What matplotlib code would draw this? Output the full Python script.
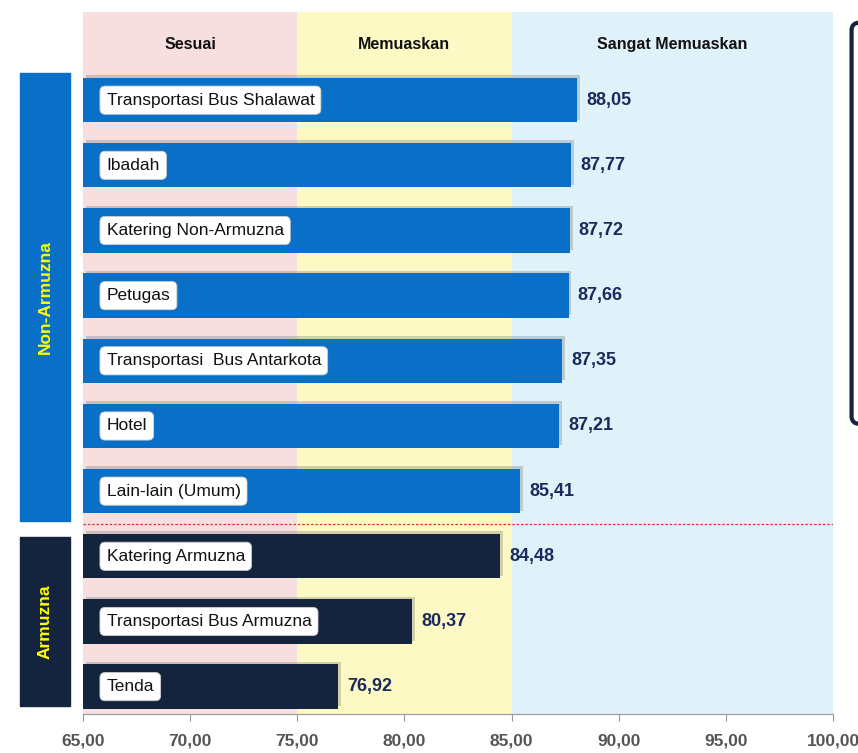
import matplotlib
matplotlib.use("Agg")
import matplotlib.pyplot as plt
import matplotlib.transforms as mtransforms
import matplotlib.patheffects as pe
from matplotlib.patches import Rectangle, FancyBboxPatch

plt.rcParams['font.family'] = ['Liberation Sans', 'DejaVu Sans']

# survey scores per service
services = ['Transportasi Bus Shalawat', 'Ibadah', 'Katering Non-Armuzna', 'Petugas',
            'Transportasi  Bus Antarkota', 'Hotel', 'Lain-lain (Umum)',
            'Katering Armuzna', 'Transportasi Bus Armuzna', 'Tenda']
scores = [88.05, 87.77, 87.72, 87.66, 87.35, 87.21, 85.41, 84.48, 80.37, 76.92]
groups = ['Non-Armuzna'] * 7 + ['Armuzna'] * 3

# rating bands
band_names = ['Sesuai', 'Memuaskan', 'Sangat Memuaskan']
band_edges = [65, 75, 85, 100]
band_colors = ['#f7dfe0', '#fdf9c4', '#dff1f9']

xticks = [65, 70, 75, 80, 85, 90, 95, 100]

group_colors = {'Non-Armuzna': '#0a6fc6', 'Armuzna': '#14243f'}

fig = plt.figure(figsize=(8.58, 7.53), dpi=100)
ax = fig.add_axes([0.0967, 0.0518, 0.8741, 0.932])

n = len(services)
ypos = list(range(n))

for (lo, hi), c in zip(zip(band_edges[:-1], band_edges[1:]), band_colors):
    ax.axvspan(lo, hi, color=c, zorder=0, lw=0)

bars = ax.barh(ypos, [s - band_edges[0] for s in scores], left=band_edges[0], height=0.68,
               color=[group_colors[g] for g in groups], zorder=2)
for b in bars:
    b.set_path_effects([pe.SimplePatchShadow(offset=(2, 2), alpha=0.25, shadow_rgbFace='#555555'),
                        pe.Normal()])

for y, name, s in zip(ypos, services, scores):
    ax.text(66.1, y, name, va='center', ha='left', fontsize=12.5, color='#111111', zorder=4,
            bbox=dict(boxstyle='round,pad=0.38,rounding_size=0.3', fc='white', ec='#cccccc', lw=0.6))
    ax.text(s + 0.42, y, f'{s:.2f}'.replace('.', ','), va='center', ha='left', fontsize=13,
            fontweight='bold', color='#1b2a5c', zorder=4)

# header row
for (lo, hi), name in zip(zip(band_edges[:-1], band_edges[1:]), band_names):
    ax.text((lo + hi) / 2, -0.86, name, ha='center', va='center', fontsize=11.5,
            fontweight='bold', color='#111111')

# separator between groups
split = groups.index('Armuzna') - 0.5
ax.plot([65, 100], [split, split], color='#e03030', lw=0.9, ls=(0, (2, 1.5)), zorder=3)

ax.set_xlim(65, 100)
ax.set_ylim(n - 0.58, -1.35)
ax.set_xticks(xticks)
ax.set_xticklabels([f'{t:.2f}'.replace('.', ',') for t in xticks], fontsize=12.5,
                   fontweight='bold', color='#555555')
ax.tick_params(axis='x', length=5, color='#999999', pad=9)
ax.set_yticks([])
for side in ['top', 'right', 'left']:
    ax.spines[side].set_visible(False)
ax.spines['bottom'].set_color('#999999')

# group labels on the left
trans = mtransforms.blended_transform_factory(fig.transFigure, ax.transData)
for g in ['Non-Armuzna', 'Armuzna']:
    idx = [i for i, gg in enumerate(groups) if gg == g]
    top = idx[0] - 0.42 if idx[0] == 0 else idx[0] - 0.30
    bot = idx[-1] + (0.46 if g == 'Non-Armuzna' else 0.30)
    fig.patches.append(Rectangle((0.0233, top), 0.0583, bot - top, transform=trans,
                                 color=group_colors[g], zorder=1))
    fig.text(0.0525, (top + bot) / 2, g, transform=trans, rotation=90, ha='center',
             va='center', fontsize=12.5, fontweight='bold', color='#ffff00')

# panel edge at the right
fig.patches.append(FancyBboxPatch((0.9925, 0.437), 0.05, 0.533,
                                  boxstyle='round,pad=0,rounding_size=0.01',
                                  transform=fig.transFigure, fc='white', ec='#14243f', lw=3))

fig.savefig('out.png', dpi=100)
